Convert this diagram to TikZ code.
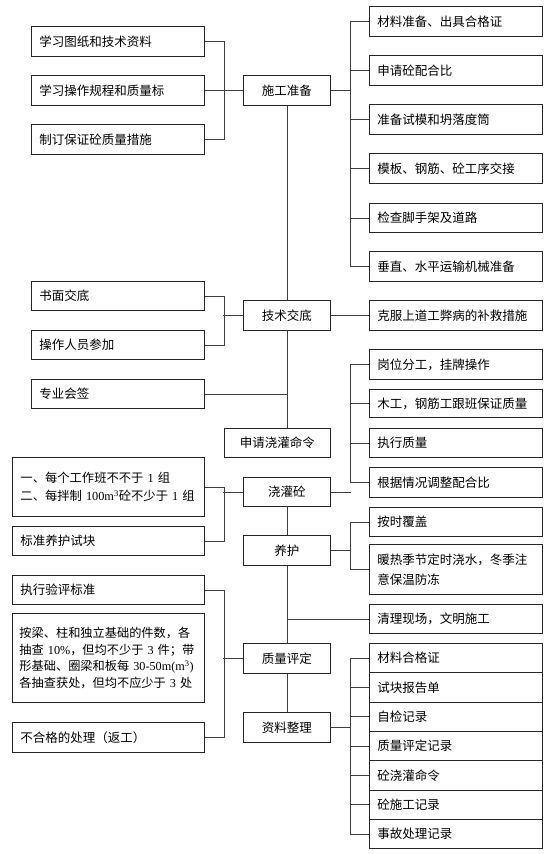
\documentclass[tikz,border=0pt]{standalone}
\usepackage{fontspec}
\setmainfont{Liberation Serif}
\newfontfamily\cjk{Noto Sans CJK SC}
\newcommand{\rl}[1]{{\rmfamily #1}}
\begin{document}
\begin{tikzpicture}[x=1pt,y=-1pt,
  box/.style={draw=black!85, line width=0.9pt, inner ysep=0pt, inner xsep=8pt,
    font=\cjk\fontsize{12.5}{18}\selectfont, anchor=north west, minimum height=30pt},
  rbox/.style={box, text width=157pt, align=left},
  wbox/.style={box, text width=176pt, align=left},
  cbox/.style={box, minimum width=87pt, align=center},
  ln/.style={draw=black!75, line width=0.8pt}]
\useasboundingbox (0,0) rectangle (554,854);
% column 1 (施工准备)
\node[rbox] (a1) at (31,26) {学习图纸和技术资料};
\node[rbox] (a2) at (31,75) {学习操作规程和质量标};
\node[rbox] (a3) at (31,124) {制订保证砼质量措施};
\node[cbox] (sg) at (243,75) {施工准备};
\node[rbox] (b1) at (369,6) {材料准备、出具合格证};
\node[rbox] (b2) at (369,55) {申请砼配合比};
\node[rbox] (b3) at (369,104) {准备试模和坍落度筒};
\node[rbox] (b4) at (369,153) {模板、钢筋、砼工序交接};
\node[rbox, minimum height=29pt] (b5) at (369,203) {检查脚手架及道路};
\node[rbox] (b6) at (369,251) {垂直、水平运输机械准备};
% 技术交底
\node[rbox, minimum height=29pt] (c1) at (31,281) {书面交底};
\node[rbox, minimum height=29pt] (c2) at (31,330) {操作人员参加};
\node[cbox] (jd) at (243,300) {技术交底};
\node[rbox] (kf) at (369,300) {克服上道工弊病的补救措施};
\node[rbox, minimum height=29pt] (zy) at (31,379) {专业会签};
% 浇灌砼
\node[rbox] (e1) at (369,349) {岗位分工，挂牌操作};
\node[rbox, minimum height=28pt] (e2) at (369,389) {木工，钢筋工跟班保证质量};
\node[rbox, minimum height=29pt] (e3) at (369,428) {执行质量};
\node[rbox] (e4) at (369,467) {根据情况调整配合比};
\node[box, minimum width=106pt, minimum height=29pt, align=center] (sq) at (224,428) {申请浇灌命令};
\node[cbox, minimum height=29pt] (jg) at (243,477) {浇灌砼};
\node[wbox, minimum height=59pt, font=\cjk\fontsize{12.3}{18}\selectfont] (d1) at (12,457) {\mbox{一、每个工作班不不于\rl{ 1 }组}\\\mbox{二、每拌制\rl{ 100m\textsuperscript{3}}砼不少于\rl{ 1 }组}};
\node[wbox, minimum height=29pt] (d2) at (12,526) {标准养护试块};
% 养护
\node[rbox, minimum height=29pt] (f1) at (369,507) {按时覆盖};
\node[rbox, minimum height=50pt, font=\cjk\fontsize{12.5}{20}\selectfont] (f2) at (369,544) {暖热季节定时浇水，冬季注\\意保温防冻};
\node[cbox] (yh) at (243,535) {养护};
\node[rbox, minimum height=29pt] (ql) at (369,604) {清理现场，文明施工};
% 质量评定
\node[wbox, minimum height=29pt] (g1) at (12,575) {执行验评标准};
\node[wbox, minimum height=89pt, inner xsep=7pt, text width=178pt, font=\cjk\fontsize{12.2}{16.5}\selectfont] (g2) at (12,613) {\mbox{按梁、柱和独立基础的件数，各}\\\mbox{抽查\rl{ 10\%}，但均不少于\rl{ 3 }件；带}\\\mbox{形基础、圈梁和板每\rl{ 30-50m(m\textsuperscript{3})}}\\\mbox{各抽查获处，但均不应少于\rl{ 3 }处}};
\node[wbox] (g3) at (12,722) {不合格的处理（返工）};
\node[cbox] (zl) at (243,643) {质量评定};
\node[cbox] (zt) at (243,712) {资料整理};
\node[rbox, minimum height=29.3pt] (h1) at (369,643) {材料合格证};
\node[rbox, minimum height=29.3pt] (h2) at (369,672.3) {试块报告单};
\node[rbox, minimum height=29.3pt] (h3) at (369,701.6) {自检记录};
\node[rbox, minimum height=29.3pt] (h4) at (369,730.9) {质量评定记录};
\node[rbox, minimum height=29.3pt] (h5) at (369,760.2) {砼浇灌命令};
\node[rbox, minimum height=29.3pt] (h6) at (369,789.5) {砼施工记录};
\node[rbox, minimum height=29.3pt] (h7) at (369,818.8) {事故处理记录};
% connectors
\path[ln] (a1.east) -- ++(19,0) |- (a3.east);
\path[ln] (a2.east) -- (sg.west);
\path[ln] (b1.west) -- ++(-19,0) |- (b6.west);
\foreach \n in {b2,b3,b4,b5} \path[ln] (\n.west) -- ++(-19,0);
\path[ln] (sg.east) -- ++(20,0);
\path[ln] (sg.south) -- (jd.north);
\path[ln] (jd.south) -- (sq.north -| jd.south);
\path[ln] (zy.east) -- (zy.east -| jd.south);
\path[ln] (c1.east) -- ++(19,0) |- (c2.east);
\path[ln] (jd.west) -- ++(-20,0);
\path[ln] (jd.east) -- (kf.west);
\path[ln] (d1.east) -- ++(19,0) |- (d2.east);
\path[ln] (jg.west) -- ++(-20,0);
\path[ln] (e1.west) -- ++(-19,0) |- (e4.west);
\foreach \n in {e2,e3} \path[ln] (\n.west) -- ++(-19,0);
\path[ln] (jg.east) -- ++(20,0);
\path[ln] (jg.south) -- (yh.north);
\path[ln] (f1.west) -- ++(-19,0) |- (f2.west);
\path[ln] (yh.east) -- ++(20,0);
\path[ln] (yh.south) -- (zl.north);
\path[ln] (ql.west) -- (ql.west -| yh.south);
\path[ln] (g1.east) -- ++(19,0) |- (g3.east);
\path[ln] (zl.west) -- ++(-20,0);
\path[ln] (zl.south) -- (zt.north);
\path[ln] (h1.west) -- ++(-19,0) |- (h7.west);
\foreach \n in {h2,h3,h4,h5,h6} \path[ln] (\n.west) -- ++(-19,0);
\path[ln] (zt.east) -- ++(20,0);
\end{tikzpicture}
\end{document}
